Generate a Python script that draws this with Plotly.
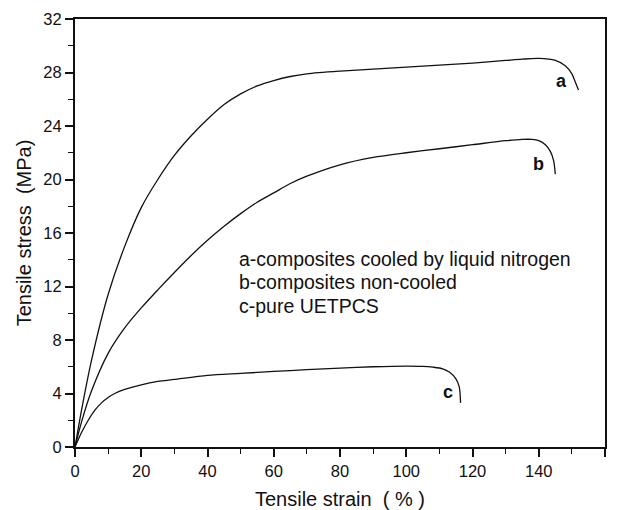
import plotly.graph_objects as go

# Curve a: composites cooled by liquid nitrogen
strain_a = [0, 2, 5, 10, 15, 20, 25, 30, 35, 40, 45, 50, 55, 60, 65, 70, 80, 90, 100, 110, 120, 130, 135, 140, 145, 148, 150, 151, 152]
stress_a = [0, 2.8, 6.5, 11.4, 15.0, 17.9, 20.0, 21.8, 23.25, 24.5, 25.6, 26.4, 27.0, 27.4, 27.7, 27.9, 28.1, 28.25, 28.4, 28.55, 28.7, 28.9, 29.0, 29.05, 28.9, 28.5, 27.9, 27.3, 26.7]

# Curve b: composites non-cooled
strain_b = [0, 2, 5, 10, 15, 20, 25, 30, 35, 40, 45, 50, 55, 60, 65, 70, 80, 90, 100, 110, 120, 130, 135, 138, 140, 142, 143.5, 144.5, 145]
stress_b = [0, 1.9, 4.2, 7.0, 8.9, 10.4, 11.75, 13.05, 14.3, 15.45, 16.5, 17.45, 18.3, 19.0, 19.7, 20.25, 21.1, 21.65, 22.0, 22.3, 22.6, 22.9, 23.0, 23.0, 22.9, 22.6, 22.1, 21.4, 20.4]

# Curve c: pure UETPCS
strain_c = [0, 2, 4, 6, 8, 10, 12, 15, 20, 25, 30, 40, 50, 60, 70, 80, 90, 100, 105, 108, 111, 113, 115, 116, 116.4]
stress_c = [0, 1.1, 2.0, 2.75, 3.3, 3.7, 4.0, 4.3, 4.65, 4.9, 5.05, 5.35, 5.5, 5.65, 5.78, 5.9, 6.0, 6.05, 6.03, 5.97, 5.85, 5.6, 5.1, 4.5, 3.3]

curve_labels = ["a", "b", "c"]
label_x = [146.9, 139.9, 112.5]
label_y = [27.4, 21.15, 4.1]

legend_lines = ["a-composites cooled by liquid nitrogen", "b-composites non-cooled", "c-pure UETPCS"]
legend_x = 48.8
legend_y = [14.07, 12.3, 10.55]

FONT = "Liberation Sans, Arial, sans-serif"
INK = "#111111"

fig = go.Figure()
for xs, ys in [(strain_a, stress_a), (strain_b, stress_b), (strain_c, stress_c)]:
    fig.add_trace(go.Scatter(x=xs, y=ys, mode="lines",
                             line=dict(color=INK, width=1.3, shape="spline", smoothing=0.8),
                             showlegend=False, hoverinfo="skip"))

for lab, lx, ly in zip(curve_labels, label_x, label_y):
    fig.add_annotation(x=lx, y=ly, text="<b>" + lab + "</b>", showarrow=False,
                       font=dict(family=FONT, size=18, color=INK))

for line, ly in zip(legend_lines, legend_y):
    fig.add_annotation(x=legend_x, y=ly, xanchor="left", yanchor="middle",
                       showarrow=False, text=line,
                       font=dict(family=FONT, size=19.5, color=INK))

axis_common = dict(showline=True, linewidth=2, linecolor=INK, mirror=True,
                   ticks="outside", ticklen=8, tickwidth=1.5, tickcolor=INK,
                   showgrid=False, zeroline=False, automargin=False,
                   tickfont=dict(family=FONT, size=16.5, color=INK))

fig.update_layout(
    width=618, height=510,
    margin=dict(l=75, r=13, t=19, b=63),
    paper_bgcolor="white", plot_bgcolor="white",
    xaxis=dict(range=[0, 160], tickmode="linear", tick0=0, dtick=20,
               minor=dict(dtick=10, ticks="outside", ticklen=5, tickwidth=1.2, tickcolor=INK),
               title=dict(text="Tensile strain  ( % )", standoff=18,
                          font=dict(family=FONT, size=20, color=INK)),
               **axis_common),
    yaxis=dict(range=[0, 32], tickmode="linear", tick0=0, dtick=4,
               minor=dict(dtick=2, ticks="outside", ticklen=5, tickwidth=1.2, tickcolor=INK),
               title=dict(text="Tensile stress  (MPa)", standoff=6,
                          font=dict(family=FONT, size=20, color=INK)),
               **axis_common),
)

fig.write_html("out.html")
